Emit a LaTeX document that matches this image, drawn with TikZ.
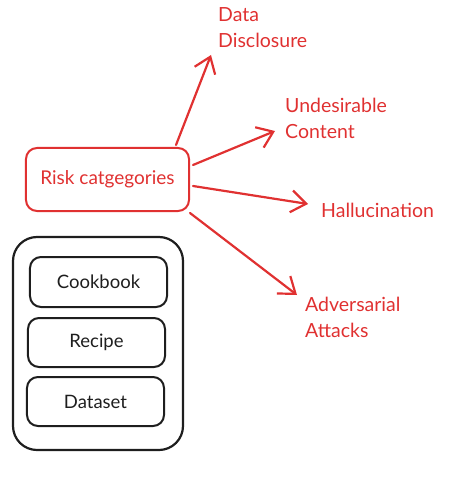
\documentclass[tikz,border=0pt]{standalone}
\usepackage{fontspec}
\setmainfont{Lato}
\usetikzlibrary{arrows.meta}
\definecolor{exred}{HTML}{E03131}
\definecolor{exblack}{HTML}{1E1E1E}
\tikzset{
  redbox/.style={draw=exred, line width=2bp, rounded corners=11bp, text=exred, font=\fontsize{19bp}{25bp}\selectfont},
  blackbox/.style={draw=exblack, line width=2bp, rounded corners=11bp, text=exblack, font=\fontsize{18.5bp}{24bp}\selectfont},
  outerbox/.style={draw=exblack, line width=2.2bp, rounded corners=24bp},
  redlabel/.style={text=exred, align=left, anchor=north west, inner sep=0pt, font=\fontsize{19.5bp}{26bp}\selectfont},
  redarrow/.style={draw=exred, line width=2.2bp, line cap=round, -{Straight Barb[length=15bp,width=22bp,line width=2.2bp]}}
}
\begin{document}
\begin{tikzpicture}[x=1bp,y=-1bp]
\useasboundingbox (0,0) rectangle (464,481);
% risk categories box
\node[redbox, minimum width=163bp, minimum height=63bp] (risk) at (107.5,179.5) {Risk catgegories};
% stack
\node[outerbox, minimum width=170bp, minimum height=213bp] (stack) at (98,343.5) {};
\node[blackbox, minimum width=137bp, minimum height=50bp] (cookbook) at (98.5,282) {Cookbook};
\node[blackbox, minimum width=137bp, minimum height=49bp] (recipe) at (96.5,342.5) {Recipe};
\node[blackbox, minimum width=137bp, minimum height=49bp] (dataset) at (95.5,401.5) {Dataset};
% labels
\node[redlabel] (data) at (218,7) {Data\\Disclosure};
\node[redlabel] (undes) at (285,98) {Undesirable\\Content};
\node[redlabel] (hall) at (321,203) {Hallucination};
\node[redlabel] (adv) at (305,297) {Adversarial\\Attacks};
% arrow ends
\coordinate (s1) at (176,145);
\coordinate (t1) at (211,55);
\coordinate (s2) at (193,165);
\coordinate (t2) at (275,131);
\coordinate (s3) at (193,186);
\coordinate (t3) at (308,204);
\coordinate (s4) at (190,213);
\coordinate (t4) at (297,295);
\draw[redarrow] (s1) -- (t1);
\draw[redarrow] (s2) -- (t2);
\draw[redarrow] (s3) -- (t3);
\draw[redarrow] (s4) -- (t4);
\end{tikzpicture}
\end{document}
